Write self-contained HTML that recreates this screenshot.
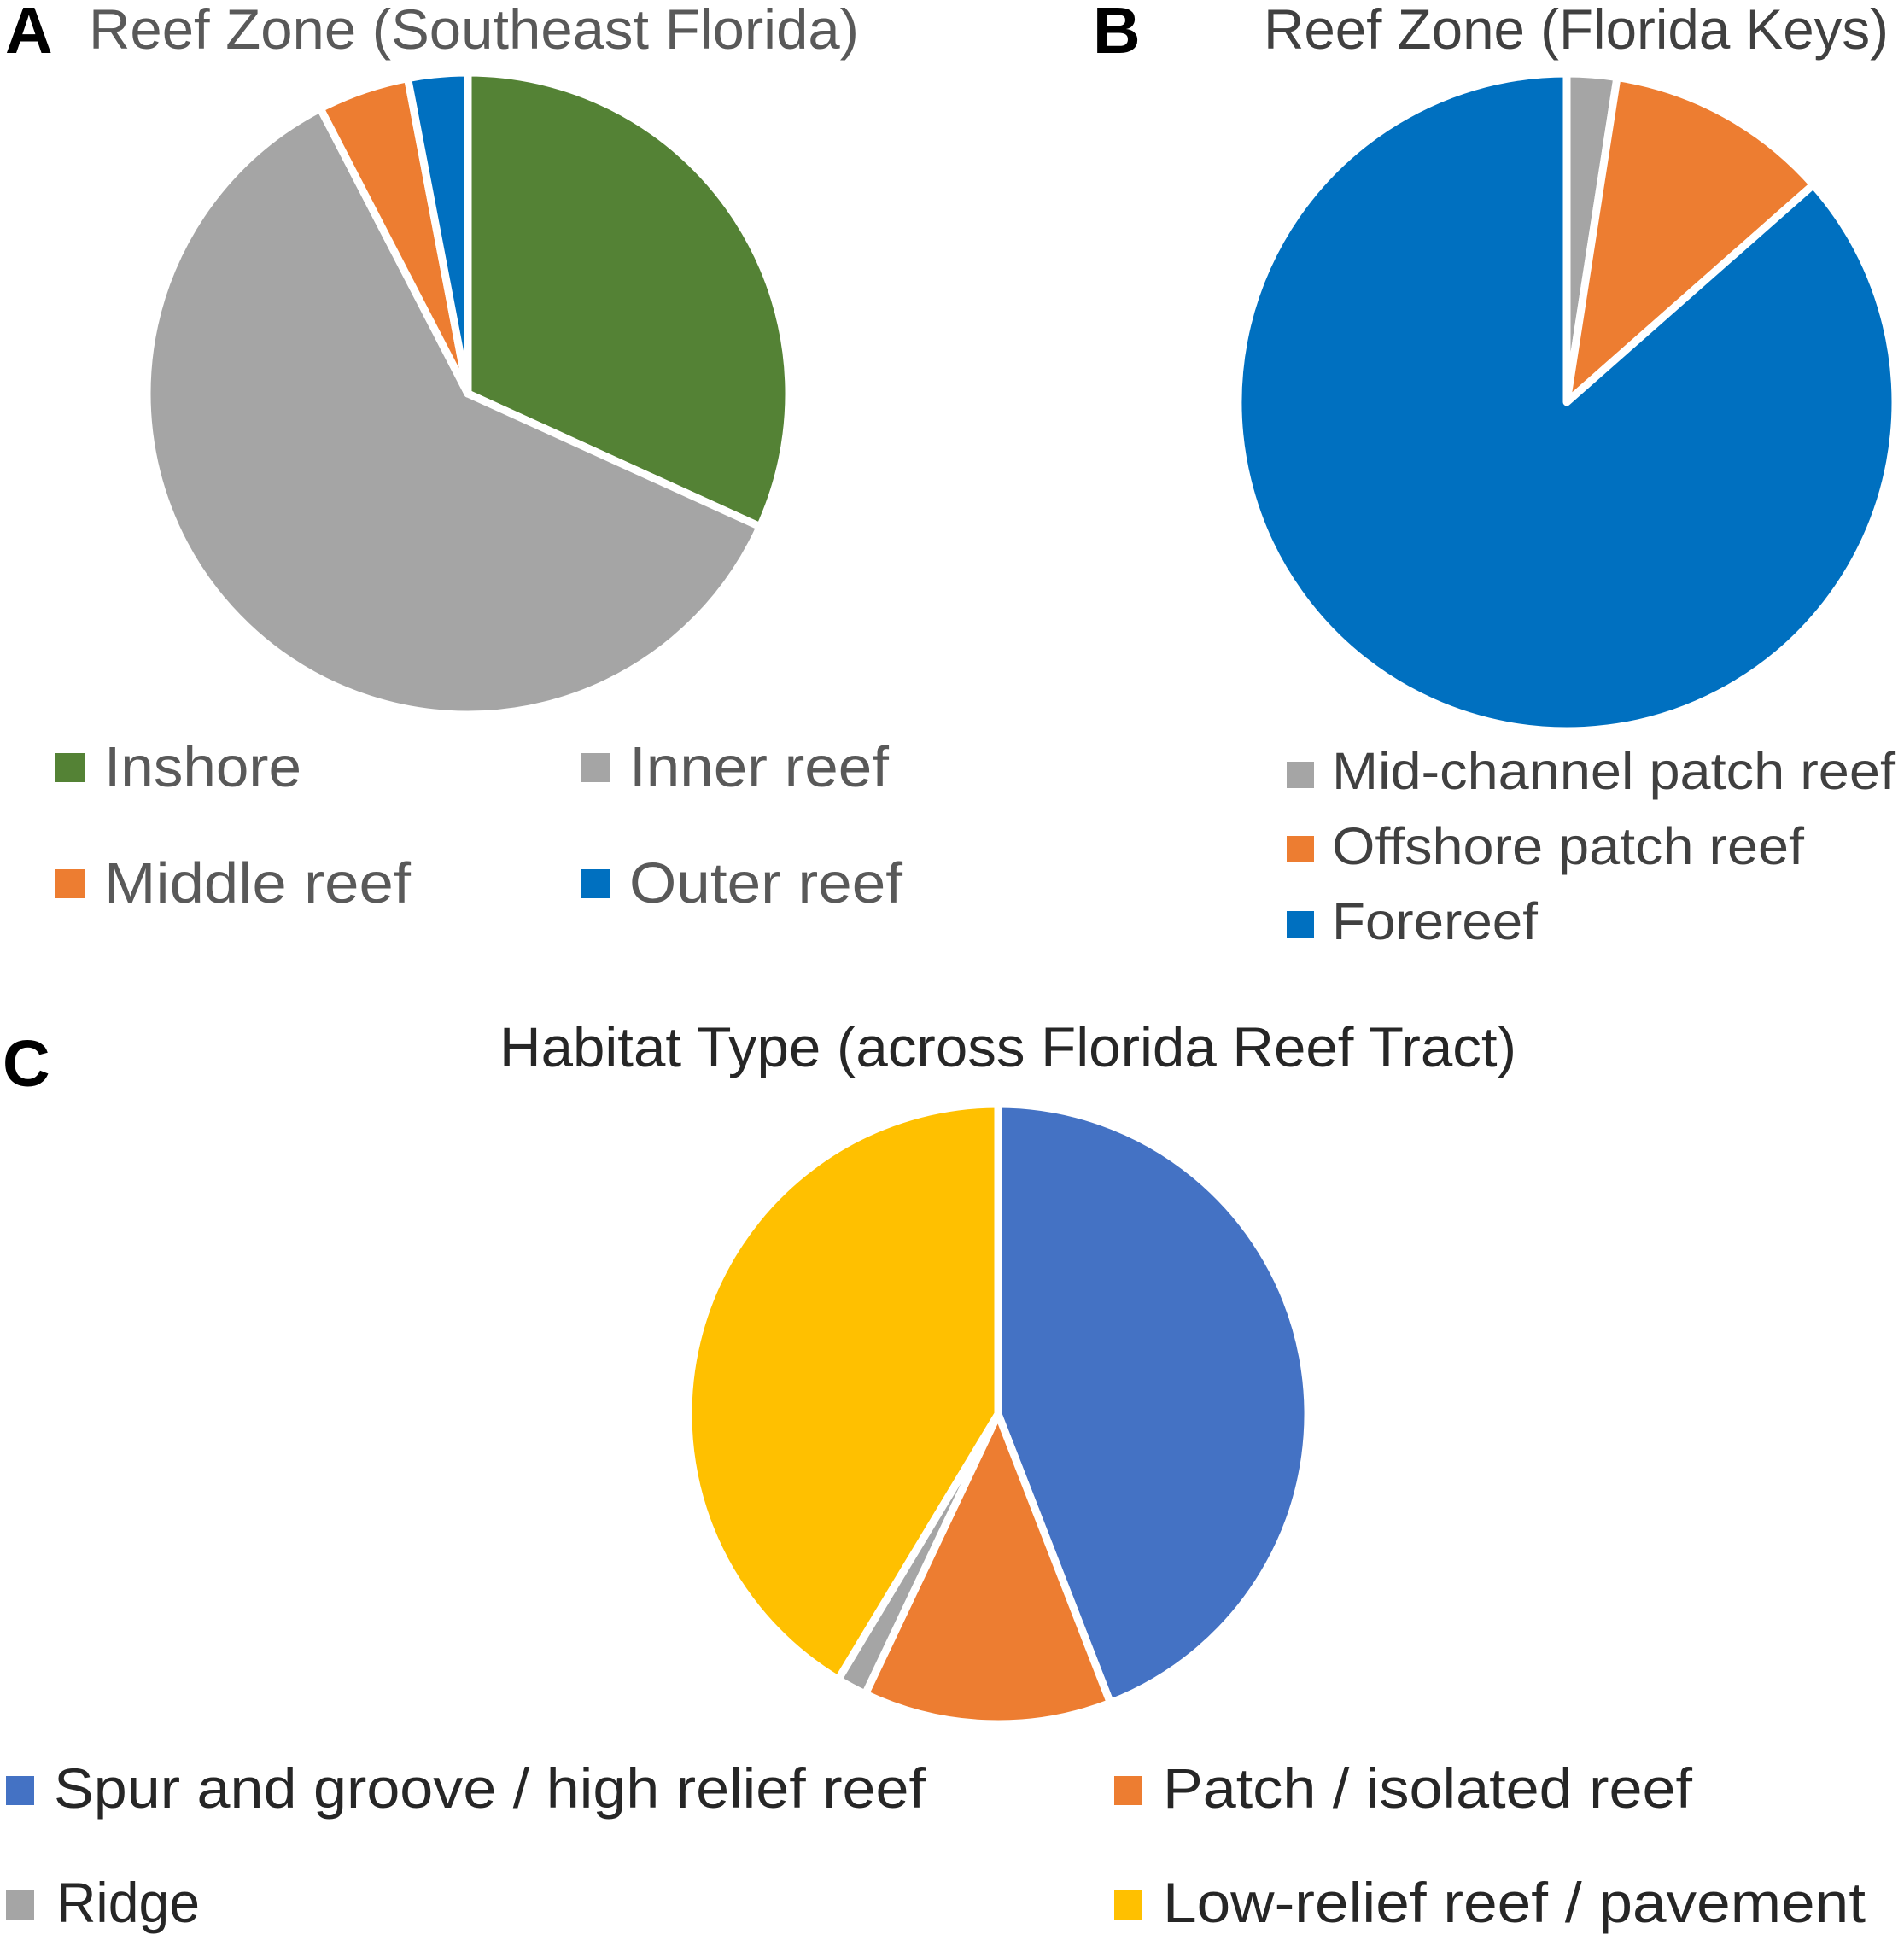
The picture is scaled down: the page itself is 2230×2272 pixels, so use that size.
<!DOCTYPE html>
<html lang="en">
<head>
<meta charset="utf-8">
<title>Reef zone and habitat type pie charts</title>
<style>
html,body{margin:0;padding:0;background:#fff;}
svg{display:block;}
text{font-family:"Liberation Sans",sans-serif;}
.a{fill:#595959;}
.b{fill:#404040;}
.c{fill:#262626;}
.panel{font-weight:bold;font-size:77px;fill:#000;}
</style>
</head>
<body>
<svg id="figure" xmlns="http://www.w3.org/2000/svg" width="2230" height="2272" viewBox="0 0 2230 2272">
  <rect width="2230" height="2272" fill="#ffffff"/>

  <g>
    <text class="panel" x="6" y="62">A</text>
    <text class="a" x="104" y="57" font-size="66" textLength="902" lengthAdjust="spacingAndGlyphs">Reef Zone (Southeast Florida)</text>
    <g id="pie-a"></g>
    <rect x="65" y="882" width="34" height="34" fill="#548235"/>
    <text class="a" x="122" y="921" font-size="67" textLength="231" lengthAdjust="spacingAndGlyphs">Inshore</text>
    <rect x="681" y="882" width="34" height="34" fill="#A5A5A5"/>
    <text class="a" x="737" y="921" font-size="67" textLength="304" lengthAdjust="spacingAndGlyphs">Inner reef</text>
    <rect x="65" y="1018" width="34" height="34" fill="#ED7D31"/>
    <text class="a" x="122" y="1057" font-size="67" textLength="359" lengthAdjust="spacingAndGlyphs">Middle reef</text>
    <rect x="681" y="1018" width="34" height="34" fill="#0070C0"/>
    <text class="a" x="737" y="1057" font-size="67" textLength="320" lengthAdjust="spacingAndGlyphs">Outer reef</text>
  </g>

  <g>
    <text class="panel" x="1280" y="62">B</text>
    <text class="b" x="1480" y="57" font-size="66" textLength="732" lengthAdjust="spacingAndGlyphs">Reef Zone (Florida Keys)</text>
    <g id="pie-b"></g>
    <rect x="1507" y="892" width="32" height="31" fill="#A5A5A5"/>
    <text class="b" x="1560" y="924" font-size="61" textLength="660" lengthAdjust="spacingAndGlyphs">Mid-channel patch reef</text>
    <rect x="1507" y="979" width="32" height="31" fill="#ED7D31"/>
    <text class="b" x="1560" y="1012" font-size="61" textLength="553" lengthAdjust="spacingAndGlyphs">Offshore patch reef</text>
    <rect x="1507" y="1067" width="32" height="31" fill="#0070C0"/>
    <text class="b" x="1560" y="1100" font-size="61" textLength="241" lengthAdjust="spacingAndGlyphs">Forereef</text>
  </g>

  <g>
    <text class="panel" x="3" y="1272">C</text>
    <text class="c" x="585" y="1249" font-size="66" textLength="1191" lengthAdjust="spacingAndGlyphs">Habitat Type (across Florida Reef Tract)</text>
    <g id="pie-c"></g>
    <rect x="7" y="2080" width="33" height="34" fill="#4472C4"/>
    <text class="c" x="63" y="2117" font-size="66" textLength="1021" lengthAdjust="spacingAndGlyphs">Spur and groove / high relief reef</text>
    <rect x="1305" y="2080" width="33" height="34" fill="#ED7D31"/>
    <text class="c" x="1362" y="2117" font-size="66" textLength="620" lengthAdjust="spacingAndGlyphs">Patch / isolated reef</text>
    <rect x="7" y="2214" width="33" height="34" fill="#A5A5A5"/>
    <text class="c" x="66" y="2251" font-size="66" textLength="168" lengthAdjust="spacingAndGlyphs">Ridge</text>
    <rect x="1305" y="2214" width="33" height="34" fill="#FFC000"/>
    <text class="c" x="1362" y="2251" font-size="66" textLength="823" lengthAdjust="spacingAndGlyphs">Low-relief reef / pavement</text>
  </g>
</svg>
<script>
var zoneSoutheastCategories = ["Inshore", "Inner reef", "Middle reef", "Outer reef"];
var zoneSoutheastValues = [31.8, 60.6, 4.6, 3.0];
var zoneKeysCategories = ["Mid-channel patch reef", "Offshore patch reef", "Forereef"];
var zoneKeysValues = [2.45, 11.05, 86.5];
var habitatCategories = ["Spur and groove / high relief reef", "Patch / isolated reef", "Ridge", "Low-relief reef / pavement"];
var habitatValues = [44.1, 12.95, 1.58, 41.37];

var SVG_NS = "http://www.w3.org/2000/svg";

function angleScale(values) {
  var total = values.reduce(function (a, b) { return a + b; }, 0);
  return function (v) { return v / total * 2 * Math.PI; };
}

function polar(cx, cy, r, angle) {
  return [cx + r * Math.sin(angle), cy - r * Math.cos(angle)];
}

function drawPie(groupId, categories, values, colors, cx, cy, r, strokeWidth) {
  var group = document.getElementById(groupId);
  var toAngle = angleScale(values);
  var start = 0;
  values.forEach(function (value, i) {
    var sweep = toAngle(value);
    var end = start + sweep;
    var p0 = polar(cx, cy, r, start);
    var p1 = polar(cx, cy, r, end);
    var large = sweep > Math.PI ? 1 : 0;
    var d = "M" + cx + " " + cy + " L" + p0[0].toFixed(2) + " " + p0[1].toFixed(2) +
      " A" + r + " " + r + " 0 " + large + " 1 " + p1[0].toFixed(2) + " " + p1[1].toFixed(2) + " Z";
    var slice = document.createElementNS(SVG_NS, "path");
    slice.setAttribute("d", d);
    slice.setAttribute("fill", colors[i]);
    slice.setAttribute("stroke", "#ffffff");
    slice.setAttribute("stroke-width", strokeWidth);
    slice.setAttribute("stroke-linejoin", "round");
    
    
    var label = document.createElementNS(SVG_NS, "title");
    label.textContent = categories[i] + ": " + value + "%";
    slice.appendChild(label);
    group.appendChild(slice);
    start = end;
  });
}

drawPie("pie-a", zoneSoutheastCategories, zoneSoutheastValues, ["#548235", "#A5A5A5", "#ED7D31", "#0070C0"], 548, 461, 376, 9);
drawPie("pie-b", zoneKeysCategories, zoneKeysValues, ["#A5A5A5", "#ED7D31", "#0070C0"], 1835, 471, 385, 9);
drawPie("pie-c", habitatCategories, habitatValues, ["#4472C4", "#ED7D31", "#A5A5A5", "#FFC000"], 1169, 1656, 363, 9);
</script>
</body>
</html>
